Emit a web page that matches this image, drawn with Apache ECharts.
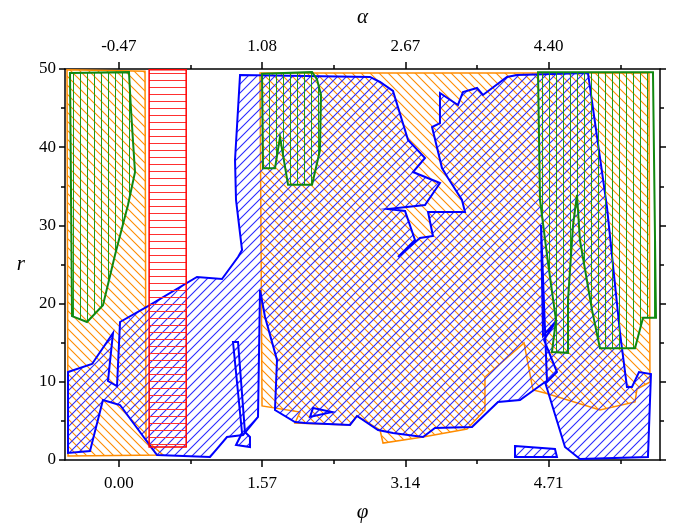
<!DOCTYPE html>
<html><head><meta charset="utf-8">
<script src="https://cdn.jsdelivr.net/npm/echarts@6/dist/echarts.min.js"></script>
<style>html,body{margin:0;padding:0;background:#fff}#c{width:674px;height:524px}</style>
</head><body><div id="c"></div>
<script>
// ---- ticks ----
const phiTicks = [0, 1.57, 3.14, 4.71];
const phiMinorTicks = [0.785, 2.355, 3.925, 5.495];
const phiLabels = ['0.00', '1.57', '3.14', '4.71'];
const alphaLabels = ['-0.47', '1.08', '2.67', '4.40'];

// ---- regions: [phi, r] vertices ----
const orangeLeft = [[-0.568,49.9],[0.287,49.7],[0.298,2.56],[0.484,0.64],[-0.557,0.51]];
const orangeMain = [[1.547,49.5],[5.809,49.5],[5.820,9.97],[5.678,9.08],[5.656,7.42],[5.272,6.39],
  [4.670,8.57],[4.538,8.95],[4.440,14.96],[4.012,10.61],[4.012,6.39],[3.815,3.96],[3.333,2.94],
  [2.895,2.17],[2.862,3.84],[2.610,5.63],[2.533,4.48],[1.930,4.73],[1.985,6.14],[1.569,6.91]];
const greenLeft = [[-0.535,49.5],[0.111,49.6],[0.133,44.8],[0.177,36.8],[0.100,32.6],[-0.042,26.2],
  [-0.174,19.8],[-0.349,17.65],[-0.513,18.4]];
const greenMid = [[1.569,49.4],[2.117,49.6],[2.171,48.7],[2.215,46.7],[2.204,39.6],[2.117,35.2],
  [1.854,35.2],[1.766,41.3],[1.711,37.3],[1.580,37.3]];
const greenRight = [[4.593,49.6],[5.853,49.6],[5.886,18.2],[5.744,18.2],[5.656,14.3],[5.272,14.3],
  [5.185,19.2],[5.053,28.1],[5.020,33.9],[4.977,30.0],[4.922,20.5],[4.922,13.7],[4.746,13.8],
  [4.790,17.9],[4.703,25.2],[4.615,33.25]];
const redStrip = [[0.332,49.9],[0.738,49.9],[0.738,1.66],[0.332,1.66]];
const blueMain = [[-0.557,0.90],[-0.557,11.25],[-0.294,12.28],[-0.064,16.24],[-0.119,10.10],[-0.020,9.46],
  [0.013,17.65],[0.320,19.69],[0.856,23.40],[1.130,23.15],[1.306,25.96],[1.350,26.85],[1.284,33.25],
  [1.273,38.36],[1.328,49.23],[2.752,48.98],[2.862,48.34],[3.004,47.19],[3.169,40.92],[3.355,38.62],
  [3.223,36.83],[3.519,35.42],[3.355,32.61],[2.949,32.10],[3.136,31.84],[3.245,28.13],[3.059,25.96],
  [3.300,28.39],[3.442,28.64],[3.388,31.71],[3.793,31.71],[3.760,33.25],[3.607,36.06],[3.541,37.34],
  [3.432,42.58],[3.519,43.09],[3.519,46.93],[3.716,45.40],[3.771,47.06],[3.925,47.57],[3.990,46.68],
  [4.253,48.98],[4.363,49.23],[5.141,49.49],[5.349,32.35],[5.492,16.24],[5.568,9.34],[5.623,9.34],
  [5.700,11.25],[5.831,11.00],[5.798,0.38],[5.053,0.13],[4.889,1.66],[4.670,9.97],[4.396,7.67],
  [4.155,7.42],[3.870,4.22],[3.464,4.09],[3.333,2.94],[3.004,3.45],[2.840,3.84],[2.610,5.63],
  [2.533,4.48],[2.040,4.73],[1.930,4.86],[1.711,6.39],[1.733,12.79],[1.602,18.29],[1.547,21.74],
  [1.525,5.50],[1.361,3.20],[1.185,2.94],[0.999,0.38],[0.418,0.64],[0.013,7.03],[-0.174,7.67],[-0.316,1.15]];
const blueSpike = [[4.626,30.05],[4.692,9.97],[4.801,11.25],[4.659,15.35],[4.801,17.9],[4.648,15.86]];
const blueFoot = [[4.341,1.79],[4.779,1.41],[4.801,0.38],[4.341,0.38]];
const blueSliver = [[1.251,15.09],[1.306,15.09],[1.382,3.58],[1.437,2.94],[1.437,1.66],[1.284,1.92],[1.350,3.45]];
const blueNub = [[2.128,6.65],[2.336,6.14],[2.095,5.50]];

function hatch(color, kind, size, lw) {
  const c = document.createElement('canvas'); c.width = size; c.height = size;
  const g = c.getContext('2d'); g.strokeStyle = color; g.lineWidth = lw; g.beginPath();
  if (kind === 'v') { g.moveTo(size / 2, 0); g.lineTo(size / 2, size); }
  else if (kind === 'h') { g.moveTo(0, size / 2); g.lineTo(size, size / 2); }
  else if (kind === 'b') { for (let k = -1; k <= 1; k++) { g.moveTo(-size + k * size, -size); g.lineTo(2 * size + k * size, 2 * size); } }
  else { for (let k = -1; k <= 1; k++) { g.moveTo(-size + k * size, 2 * size); g.lineTo(2 * size + k * size, -size); } }
  g.stroke(); return c;
}
const pOrange = hatch('#ff8c00', 'b', 9, 1.1);
const pBlue = hatch('#2b2bff', 'f', 9, 1.1);
const pGreen = hatch('#1a9a1a', 'v', 7, 1);
const pRed = hatch('#ff3030', 'h', 7, 1);

function poly(points, stroke, pattern, lw, z) {
  return {
    type: 'custom', coordinateSystem: 'cartesian2d', xAxisIndex: 0, yAxisIndex: 0,
    data: points, z: z, silent: true, animation: false, clip: true,
    renderItem: function (params, api) {
      if (params.dataIndex !== 0) return null;
      const pts = points.map(p => api.coord(p));
      return { type: 'polygon', shape: { points: pts },
        style: { fill: { image: pattern, repeat: 'repeat' }, stroke: stroke, lineWidth: lw, lineJoin: 'miter' } };
    }
  };
}

const FONT = 'Liberation Serif';
const xr = { min: -0.59, max: 5.93 };
const lineS = { color: '#000', width: 1.5 };
function idx(v) { return phiTicks.findIndex(t => Math.abs(t - v) < 1e-6); }

const chart = echarts.init(document.getElementById('c'));
chart.setOption({
  backgroundColor: '#fff',
  animation: false,
  grid: { left: 65, right: 14, top: 69, bottom: 64, containLabel: false, outerBoundsMode: 'none' },
  xAxis: [
    { type: 'value', position: 'bottom', min: xr.min, max: xr.max,
      axisLine: { show: true, onZero: false, lineStyle: lineS },
      axisTick: { show: true, customValues: phiTicks, length: 7, lineStyle: lineS },
      axisLabel: { customValues: phiTicks, formatter: v => phiLabels[idx(v)], fontFamily: FONT, fontSize: 17, color: '#000', margin: 15 },
      splitLine: { show: false },
      name: 'φ', nameLocation: 'middle', nameGap: 42,
      nameTextStyle: { fontFamily: FONT, fontStyle: 'italic', fontSize: 21, color: '#000' } },
    { type: 'value', position: 'bottom', min: xr.min, max: xr.max,
      axisLine: { show: false, onZero: false },
      axisTick: { show: true, customValues: phiMinorTicks, length: 4, lineStyle: lineS },
      axisLabel: { show: false }, splitLine: { show: false } },
    { type: 'value', position: 'top', min: xr.min, max: xr.max,
      axisLine: { show: true, onZero: false, lineStyle: lineS },
      axisTick: { show: true, customValues: phiTicks, length: 7, lineStyle: lineS },
      axisLabel: { customValues: phiTicks, formatter: v => alphaLabels[idx(v)], fontFamily: FONT, fontSize: 17, color: '#000', margin: 14 },
      splitLine: { show: false },
      name: 'α', nameLocation: 'middle', nameGap: 41,
      nameTextStyle: { fontFamily: FONT, fontStyle: 'italic', fontSize: 21, color: '#000' } },
    { type: 'value', position: 'top', min: xr.min, max: xr.max,
      axisLine: { show: false, onZero: false },
      axisTick: { show: true, customValues: phiMinorTicks, length: 4, lineStyle: lineS },
      axisLabel: { show: false }, splitLine: { show: false } }
  ],
  yAxis: [
    { type: 'value', position: 'left', min: 0, max: 50, interval: 10,
      axisLine: { show: true, onZero: false, lineStyle: lineS },
      axisTick: { show: true, length: 6, lineStyle: lineS },
      minorTick: { show: true, splitNumber: 2, length: 4, lineStyle: lineS },
      axisLabel: { fontFamily: FONT, fontSize: 17, color: '#000', margin: 9 },
      splitLine: { show: false },
      name: 'r', nameLocation: 'middle', nameGap: 40, nameRotate: 0,
      nameTextStyle: { fontFamily: FONT, fontStyle: 'italic', fontSize: 21, color: '#000' } },
    { type: 'value', position: 'right', min: 0, max: 50, interval: 10,
      axisLine: { show: true, onZero: false, lineStyle: lineS },
      axisTick: { show: true, length: 6, lineStyle: lineS },
      minorTick: { show: true, splitNumber: 2, length: 4, lineStyle: lineS },
      axisLabel: { show: false }, splitLine: { show: false } }
  ],
  series: [
    poly(orangeLeft, '#ff8c00', pOrange, 1.5, 1),
    poly(orangeMain, '#ff8c00', pOrange, 1.5, 1),
    poly(blueMain, '#0000ff', pBlue, 2, 2),
    poly(blueSpike, '#0000ff', pBlue, 2, 2),
    poly(blueFoot, '#0000ff', pBlue, 2, 2),
    poly(blueSliver, '#0000ff', pBlue, 2, 2),
    poly(blueNub, '#0000ff', pBlue, 2, 2),
    poly(greenLeft, '#118811', pGreen, 2, 3),
    poly(greenMid, '#118811', pGreen, 2, 3),
    poly(greenRight, '#118811', pGreen, 2, 3),
    poly(redStrip, '#ff0000', pRed, 1.5, 4)
  ]
});
</script></body></html>
